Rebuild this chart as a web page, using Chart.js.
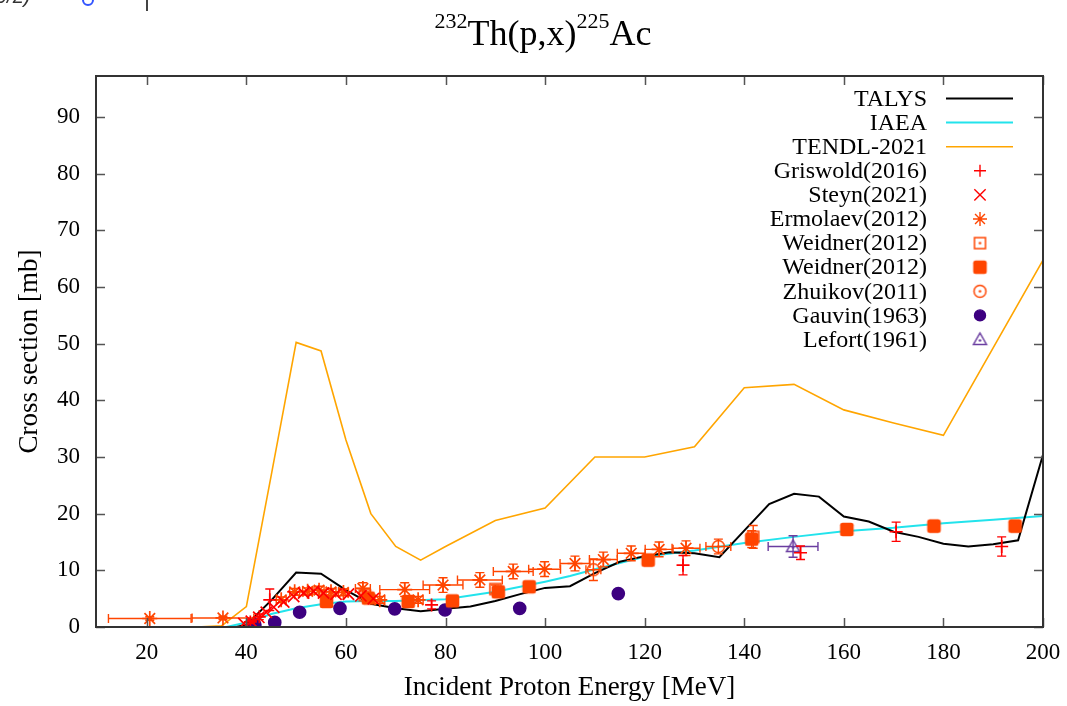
<!DOCTYPE html>
<html><head><meta charset="utf-8">
<script src="https://cdn.jsdelivr.net/npm/chart.js@4/dist/chart.umd.min.js"></script>
<style>
html,body{margin:0;padding:0;background:#fff;}
#wrap{position:relative;width:1067px;height:706px;overflow:hidden;}
canvas{position:absolute;left:0;top:0;}
#title{position:absolute;left:0;top:13px;width:1086px;text-align:center;font-family:"Liberation Serif",serif;font-size:36px;line-height:40px;color:#000;white-space:nowrap;}
#title sup{font-size:22px;vertical-align:17px;line-height:0;}
#frag{position:absolute;left:-4px;top:-15px;font-family:"Liberation Sans",sans-serif;font-style:italic;font-size:20px;color:#333;}
#fragc{position:absolute;left:82px;top:-6px;width:8px;height:8px;border:2px solid #3355ff;border-radius:50%;}
#fragl{position:absolute;left:146px;top:0;width:2px;height:11px;background:#444;}
</style></head>
<body><div id="wrap"><canvas id="c" width="1067" height="706"></canvas>
<div id="title"><sup>232</sup>Th(p,x)<sup>225</sup>Ac</div>
<div id="frag">9/2)</div><div id="fragc"></div><div id="fragl"></div>
</div>
<script>
// ---- axis ticks ----
const xTickValues = [20,40,60,80,100,120,140,160,180,200];
const yTickValues = [0,10,20,30,40,50,60,70,80,90];

// ---- evaluations (E [MeV], cross section [mb]) ----
const talysE  = [10,20,30,38,40,45,50,55,60,65,70,75,80,85,90,95,100,105,110,115,120,125,130,135,140,145,150,155,160,165,170,175,180,185,190,195,200];
const talysXS = [0,0,0,0,0.4,4.7,9.6,9.4,6.5,4.1,3.3,2.8,3.2,3.6,4.6,5.8,6.9,7.2,9.5,11.5,12.5,13.2,13.0,12.3,17.0,21.7,23.5,23.0,19.5,18.6,16.8,15.9,14.7,14.2,14.6,15.3,30.4];
const iaeaE   = [36,40,45,50,55,60,65,70,80,90,100,105,110,120,130,140,150,160,170,180,190,200];
const iaeaXS  = [0,0.8,2.3,3.3,4.0,4.5,4.6,4.6,4.9,6.2,8.0,9.0,10.2,12.4,13.5,14.8,15.9,16.9,17.5,18.3,18.9,19.6];
const tendlE  = [30,35,40,45,50,55,60,65,70,75,80,90,100,110,120,130,140,150,160,170,180,200];
const tendlXS = [0,0.2,3.6,26.8,50.2,48.7,33,20,14.2,11.8,14.2,18.8,21,30,30,31.8,42.2,42.8,38.3,36,33.8,64.7];

// ---- experimental data ----
const griswoldE   = [40.8,42.6,44.7,77.2,127.7,151.3,170.5,191.7];
const griswoldXS  = [0.9,1.8,4.8,3.9,10.9,13.1,16.8,14.2];
const griswoldDXS = [0.3,0.5,1.9,0.7,1.7,1.2,1.7,1.7];

const steynE  = [39.5,41.0,42.5,44.0,45.5,47.5,49.5,51.5,53.5,55.5,58.0,60.5,63.0,65.5];
const steynXS = [0.6,1.0,1.7,2.6,3.5,4.4,5.4,6.0,6.3,6.0,5.8,5.8,5.5,5.0];

const ermolaevE   = [20.6,35.3,47.0,49.7,52.3,54.6,57.0,59.5,63.4,66.8,71.8,74.5,79.5,86.9,93.6,99.9,106.0,111.7,117.3,122.9,128.3];
const ermolaevXS  = [1.5,1.6,4.8,6.2,6.3,6.5,6.2,6.1,6.8,4.8,6.6,4.8,7.4,8.3,9.8,10.2,11.2,11.9,13.0,13.7,13.9];
const ermolaevDE  = [8.3,6.2,1.0,1.0,1.0,1.0,1.0,1.0,1.5,1.0,5.0,1.0,4.0,4.5,4.0,3.2,3.0,2.8,2.8,2.8,2.8];
const ermolaevDXS = [0.3,0.3,0.5,0.6,0.6,0.7,0.6,0.6,1.0,0.6,1.2,0.6,1.3,1.3,1.3,1.3,1.3,1.3,1.3,1.3,1.3];

const weidnerOpenE   = [63.8,90.0,141.8];
const weidnerOpenXS  = [5.6,6.7,15.9];
const weidnerOpenDXS = [0.6,0.7,2.0];

const weidnerE   = [56.1,64.5,72.5,81.4,90.6,96.8,120.7,141.5,160.6,178.1,194.4];
const weidnerXS  = [4.5,5.1,4.5,4.6,6.2,7.1,11.8,15.5,17.2,17.8,17.8];
const weidnerDXS = [0.5,0.5,0.5,0.5,0.6,0.7,1.0,1.5,1.0,1.0,1.0];

const zhuikovE   = [109.7,134.8];
const zhuikovXS  = [10.1,14.2];
const zhuikovDE  = [1.5,2.5];
const zhuikovDXS = [1.9,1.3];

const gauvinE  = [41.7,45.7,50.7,58.8,69.8,79.9,94.9,114.7];
const gauvinXS = [0.4,0.8,2.6,3.3,3.2,3.0,3.3,5.9];

const lefortE   = [149.8];
const lefortXS  = [14.2];
const lefortDE  = [5.0];
const lefortDXS = [1.9];

// ---- helpers ----
const pts = (xs, ys) => xs.map((x, i) => ({x: x, y: ys[i]}));
const RED = '#ff0000', ORR = '#ff4500', GAUV = '#3d0080', LEF = '#6a3da0';
const SERIF = '"Liberation Serif", "Times New Roman", serif';

function marker(kind, color, sz) {
  const c = document.createElement('canvas');
  c.width = sz || 17; c.height = sz || 17;
  const g = c.getContext('2d');
  g.strokeStyle = color; g.fillStyle = color; g.lineWidth = 1.5;
  const m = c.width / 2;
  if (kind === 'fsq') {
    const h = 6.8, r = 2.5;
    g.beginPath();
    g.moveTo(m - h + r, m - h); g.lineTo(m + h - r, m - h); g.arcTo(m + h, m - h, m + h, m - h + r, r);
    g.lineTo(m + h, m + h - r); g.arcTo(m + h, m + h, m + h - r, m + h, r);
    g.lineTo(m - h + r, m + h); g.arcTo(m - h, m + h, m - h, m + h - r, r);
    g.lineTo(m - h, m - h + r); g.arcTo(m - h, m - h, m - h + r, m - h, r);
    g.closePath(); g.fill();
    return c;
  }
  if (kind === 'sq') { g.strokeRect(m - 5.5, m - 5.5, 11, 11); }
  else if (kind === 'ci') { g.beginPath(); g.arc(m, m, 6, 0, Math.PI * 2); g.stroke(); }
  else if (kind === 'tr') { g.beginPath(); g.moveTo(m, m - 6.5); g.lineTo(m + 6.5, m + 5); g.lineTo(m - 6.5, m + 5); g.closePath(); g.stroke(); }
  g.beginPath(); g.arc(m, kind === 'tr' ? m + 1 : m, 1.3, 0, Math.PI * 2); g.fill();
  return c;
}

const lineDs = (label, xs, ys, color, w) => ({
  label, data: pts(xs, ys), showLine: true, borderColor: color, backgroundColor: color,
  borderWidth: w, pointRadius: 0, pointHoverRadius: 0, order: 10, tension: 0
});
const ptDs = (label, xs, ys, style, color, radius, fill, extra) => Object.assign({
  label, data: pts(xs, ys), showLine: false, pointStyle: style, pointRadius: radius,
  pointHoverRadius: radius, borderColor: color, pointBorderColor: color,
  backgroundColor: fill ? color : 'rgba(0,0,0,0)', pointBackgroundColor: fill ? color : 'rgba(0,0,0,0)',
  pointBorderWidth: 1.7, borderWidth: 1.7, order: 1
}, extra || {});

const datasets = [
  lineDs('TALYS', talysE, talysXS, '#000000', 2),
  lineDs('IAEA', iaeaE, iaeaXS, '#22e3ec', 2),
  lineDs('TENDL-2021', tendlE, tendlXS, '#ffa500', 1.6),
  ptDs('Griswold(2016)', griswoldE, griswoldXS, 'cross', RED, 6.5, false, {errY: griswoldDXS}),
  ptDs('Steyn(2021)', steynE, steynXS, 'crossRot', RED, 8, false),
  ptDs('Ermolaev(2012)', ermolaevE, ermolaevXS, 'star', ORR, 7.5, false, {errX: ermolaevDE, errY: ermolaevDXS}),
  ptDs('Weidner(2012)', weidnerOpenE, weidnerOpenXS, marker('sq', ORR), ORR, 6, false, {errY: weidnerOpenDXS}),
  ptDs('Weidner(2012)', weidnerE, weidnerXS, marker('fsq', ORR), ORR, 7, true, {errY: weidnerDXS}),
  ptDs('Zhuikov(2011)', zhuikovE, zhuikovXS, marker('ci', ORR), ORR, 6, false, {errX: zhuikovDE, errY: zhuikovDXS}),
  ptDs('Gauvin(1963)', gauvinE, gauvinXS, 'circle', GAUV, 6, true),
  ptDs('Lefort(1961)', lefortE, lefortXS, marker('tr', LEF), LEF, 6, false, {errX: lefortDE, errY: lefortDXS})
];

const decor = {
  id: 'decor',
  beforeDatasetDraw(chart, args) {
    const ds = chart.data.datasets[args.index];
    if (!ds.errX && !ds.errY) return;
    const {ctx, chartArea: a} = chart;
    const xs = chart.scales.x, ys = chart.scales.y;
    ctx.save();
    ctx.beginPath(); ctx.rect(a.left, a.top, a.right - a.left, a.bottom - a.top); ctx.clip();
    ctx.strokeStyle = ds.borderColor; ctx.lineWidth = 1.4;
    const cap = 4.5;
    ds.data.forEach((p, i) => {
      const px = xs.getPixelForValue(p.x), py = ys.getPixelForValue(p.y);
      ctx.beginPath();
      if (ds.errX) {
        const x0 = xs.getPixelForValue(p.x - ds.errX[i]), x1 = xs.getPixelForValue(p.x + ds.errX[i]);
        ctx.moveTo(x0, py); ctx.lineTo(x1, py);
        ctx.moveTo(x0, py - cap); ctx.lineTo(x0, py + cap);
        ctx.moveTo(x1, py - cap); ctx.lineTo(x1, py + cap);
      }
      if (ds.errY) {
        const y0 = ys.getPixelForValue(p.y - ds.errY[i]), y1 = ys.getPixelForValue(p.y + ds.errY[i]);
        ctx.moveTo(px, y0); ctx.lineTo(px, y1);
        ctx.moveTo(px - cap, y0); ctx.lineTo(px + cap, y0);
        ctx.moveTo(px - cap, y1); ctx.lineTo(px + cap, y1);
      }
      ctx.stroke();
    });
    ctx.restore();
  },
  afterDatasetsDraw(chart) {
    const {ctx, chartArea: a} = chart;
    const xs = chart.scales.x, ys = chart.scales.y;
    ctx.save();
    ctx.strokeStyle = '#555'; ctx.lineWidth = 1.5;
    const tl = 9;
    ctx.beginPath();
    xTickValues.forEach(v => {
      const px = Math.round(xs.getPixelForValue(v)) + 0.5;
      ctx.moveTo(px, a.bottom); ctx.lineTo(px, a.bottom - tl);
      ctx.moveTo(px, a.top); ctx.lineTo(px, a.top + tl);
    });
    yTickValues.forEach(v => {
      const py = Math.round(ys.getPixelForValue(v)) + 0.5;
      ctx.moveTo(a.left, py); ctx.lineTo(a.left + tl, py);
      ctx.moveTo(a.right, py); ctx.lineTo(a.right - tl, py);
    });
    ctx.stroke();
    ctx.strokeStyle = '#333'; ctx.lineWidth = 2;
    ctx.strokeRect(a.left, a.top, a.right - a.left, a.bottom - a.top);
    ctx.restore();
  },
  afterDraw(chart) {
    const ctx = chart.ctx;
    ctx.save();
    ctx.font = '24px ' + SERIF;
    ctx.textAlign = 'right'; ctx.textBaseline = 'middle'; ctx.fillStyle = '#000';
    const tx = 927, lx0 = 946, lx1 = 1013, mx = 980, y0 = 98.5, dy = 24.1;
    chart.data.datasets.forEach((ds, i) => {
      const y = y0 + i * dy;
      ctx.fillStyle = '#000';
      ctx.fillText(ds.label, tx, y + 1);
      if (ds.showLine) {
        ctx.strokeStyle = ds.borderColor; ctx.lineWidth = ds.borderWidth;
        ctx.beginPath(); ctx.moveTo(lx0, y); ctx.lineTo(lx1, y); ctx.stroke();
      } else if (typeof ds.pointStyle === 'string') {
        ctx.strokeStyle = ds.borderColor; ctx.fillStyle = ds.pointBackgroundColor; ctx.lineWidth = 1.4;
        const r = {cross: 6, crossRot: 8, star: 7, circle: 5.5}[ds.pointStyle] || 6;
        Chart.helpers.drawPoint(ctx, {pointStyle: ds.pointStyle, radius: r, borderWidth: 1.4, rotation: 0}, mx, y);
      } else {
        const im = ds.pointStyle;
        ctx.drawImage(im, mx - im.width / 2, y - im.height / 2);
      }
    });
    ctx.restore();
  }
};

new Chart(document.getElementById('c'), {
  type: 'scatter',
  data: {datasets},
  plugins: [decor],
  options: {
    responsive: false, animation: false, devicePixelRatio: 1,
    layout: {padding: {top: 76, right: 24, left: 0, bottom: 0}},
    plugins: {legend: {display: false}, tooltip: {enabled: false}, title: {display: false}},
    scales: {
      x: {
        type: 'linear', min: 9.8, max: 200,
        afterBuildTicks: s => { s.ticks = xTickValues.map(v => ({value: v})); },
        afterFit: s => { s.height = 79; s.paddingLeft = 0; s.paddingRight = 0; },
        grid: {display: false}, border: {display: false},
        ticks: {autoSkip: false, maxRotation: 0, padding: 4, color: '#000', font: {family: SERIF, size: 23}},
        title: {display: true, text: 'Incident Proton Energy [MeV]', color: '#000', font: {family: SERIF, size: 27}, padding: {top: 0, bottom: 2}}
      },
      y: {
        type: 'linear', min: 0, max: 97.2,
        afterBuildTicks: s => { s.ticks = yTickValues.map(v => ({value: v})); },
        afterFit: s => { s.width = 96; s.paddingTop = 0; s.paddingBottom = 0; },
        grid: {display: false}, border: {display: false},
        ticks: {autoSkip: false, padding: 8, color: '#000', font: {family: SERIF, size: 23}},
        title: {display: true, text: 'Cross section [mb]', color: '#000', font: {family: SERIF, size: 27}, padding: {top: 14, bottom: 0}}
      }
    }
  }
});
</script>
</body></html>
